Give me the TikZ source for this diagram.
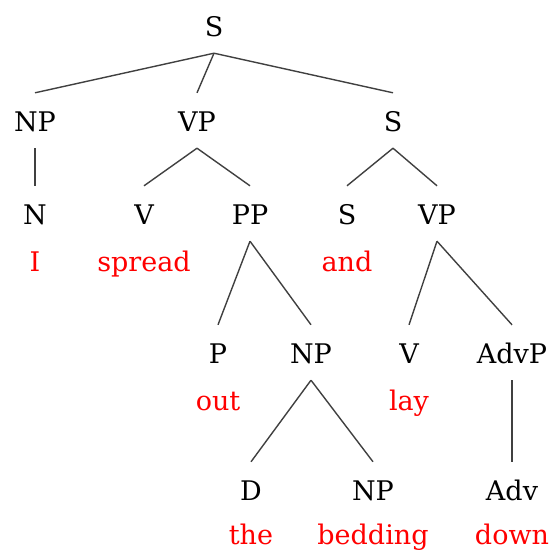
\documentclass[tikz,border=0pt]{standalone}
\usepackage{fontspec}
\setmainfont{DejaVu Serif}
\usetikzlibrary{positioning}

\begin{document}
\begin{tikzpicture}[x=1pt, y=-1pt]
    % Styles
    \tikzstyle{cat} = [anchor=base, inner xsep=0pt, inner ysep=11pt, text height=27pt, text depth=6pt, font=\fontsize{27}{32}\selectfont]
    \tikzstyle{word} = [anchor=base, inner sep=0pt, text=red, font=\fontsize{27}{32}\selectfont]
    \tikzstyle{branch} = [draw, line width=1.4pt, black!75]

    \useasboundingbox (0,0) rectangle (550,552);

    % Nodes: categories
    \node [cat] (s) at (214,36) {S};
    \node [cat] (np) at (35,131) {NP};
    \node [cat] (vp) at (197,131) {VP};
    \node [cat] (s2) at (393,131) {S};
    \node [cat] (n) at (35,224) {N};
    \node [cat] (v) at (144,224) {V};
    \node [cat] (pp) at (250,224) {PP};
    \node [cat] (s3) at (347,224) {S};
    \node [cat] (vp2) at (437,224) {VP};
    \node [cat] (p) at (218,363) {P};
    \node [cat] (np2) at (311,363) {NP};
    \node [cat] (v2) at (409,363) {V};
    \node [cat] (advp) at (512,363) {AdvP};
    \node [cat] (d) at (251,500) {D};
    \node [cat] (np3) at (373,500) {NP};
    \node [cat] (adv) at (512,500) {Adv};

    % Nodes: words
    \node [word] (w-i) at ([yshift=-47pt]n.base) {I};
    \node [word] (w-spread) at ([yshift=-47pt]v.base) {spread};
    \node [word] (w-and) at ([yshift=-47pt]s3.base) {and};
    \node [word] (w-out) at ([yshift=-47pt]p.base) {out};
    \node [word] (w-lay) at ([yshift=-47pt]v2.base) {lay};
    \node [word] (w-the) at ([yshift=-44pt]d.base) {the};
    \node [word] (w-bedding) at ([yshift=-44pt]np3.base) {bedding};
    \node [word] (w-down) at ([yshift=-44pt]adv.base) {down};

    % Paths: top level
    \draw [branch] (s.south) -- (np.north);
    \draw [branch] (s.south) -- (vp.north);
    \draw [branch] (s.south) -- (s2.north);

    % Paths: second level
    \draw [branch] (np.south) -- (n.north);
    \draw [branch] (vp.south) -- (v.north);
    \draw [branch] (vp.south) -- (pp.north);
    \draw [branch] (s2.south) -- (s3.north);
    \draw [branch] (s2.south) -- (vp2.north);

    % Paths: PP and VP
    \draw [branch] (pp.south) -- (p.north);
    \draw [branch] (pp.south) -- (np2.north);
    \draw [branch] (vp2.south) -- (v2.north);
    \draw [branch] (vp2.south) -- (advp.north);

    % Paths: bottom
    \draw [branch] (np2.south) -- (d.north);
    \draw [branch] (np2.south) -- (np3.north);
    \draw [branch] (advp.south) -- (adv.north);

\end{tikzpicture}
\end{document}
